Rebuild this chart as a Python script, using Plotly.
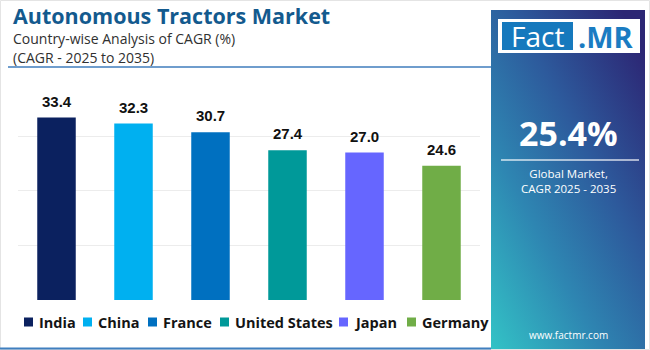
import base64
import plotly.graph_objects as go

# ---- data -------------------------------------------------------------
countries = ["India", "China", "France", "United States", "Japan", "Germany"]
cagr = [33.4, 32.3, 30.7, 27.4, 27.0, 24.6]
bar_colors = ["#0b215f", "#00b0f0", "#0070c0", "#009999", "#6666ff", "#70ad47"]
y_ticks = [0, 10, 20, 30, 40]

title_text = "Autonomous Tractors Market"
subtitle_lines = ["Country-wise Analysis of CAGR (%)", "(CAGR - 2025 to 2035)"]
global_cagr = "25.4%"
global_caption = "Global Market,<br>CAGR 2025 - 2035"
site = "www.factmr.com"

# ---- canvas geometry ----------------------------------------------------
W, H = 650, 350
ML, MR, MT, MB = 18, 170, 81, 50
PW, PH = W - ML - MR, H - MT - MB


def px(x):
    """pixel x -> paper x"""
    return (x - ML) / PW


def py(y):
    """pixel y (from top) -> paper y"""
    return (H - MB - y) / PH


fig = go.Figure()

for name, val, col in zip(countries, cagr, bar_colors):
    fig.add_trace(go.Bar(
        x=[name], y=[val], name=name,
        marker=dict(color=col, line=dict(width=0)),
        width=0.5, showlegend=False, hoverinfo="skip",
    ))
    fig.add_annotation(
        x=name, y=val, xref="x", yref="y",
        text=f"<b>{val:.1f}</b>", showarrow=False,
        yanchor="bottom", yshift=6,
        font=dict(family="Liberation Sans, Arial", size=15, color="#111111"),
    )

# ---- compact legend row: colour key + label per country ------------------------
legend_key_x = [24, 83, 148, 220, 339, 407]   # left edge of each colour key (px)
LEG_Y, KEY = 322, 9
shapes = []
annotations = []
for name, col, kx in zip(countries, bar_colors, legend_key_x):
    shapes.append(dict(type="rect", xref="paper", yref="paper",
                       x0=px(kx), x1=px(kx + KEY),
                       y0=py(LEG_Y + KEY / 2), y1=py(LEG_Y - KEY / 2),
                       line=dict(width=0), fillcolor=col))
    annotations.append(dict(text=f"<b>{name}</b>", x=px(kx + KEY + 4), y=py(LEG_Y),
                            xanchor="left", yanchor="middle",
                            font=dict(family="Open Sans", size=14.5, color="#141414")))

# ---- right-hand gradient panel ----------------------------------------------
svg = (
    '<svg xmlns="http://www.w3.org/2000/svg" width="154" height="340" '
    'viewBox="0 0 154 340" preserveAspectRatio="none">'
    '<defs><linearGradient id="g" x1="0" y1="1" x2="0.85" y2="0">'
    '<stop offset="0" stop-color="#33c3c6"/>'
    '<stop offset="0.35" stop-color="#2e86b2"/>'
    '<stop offset="0.65" stop-color="#2d5a9c"/>'
    '<stop offset="1" stop-color="#2c2674"/>'
    '</linearGradient></defs>'
    '<rect width="154" height="340" fill="url(#g)"/></svg>'
)
svg_uri = "data:image/svg+xml;base64," + base64.b64encode(svg.encode()).decode()

fig.add_layout_image(
    source=svg_uri, xref="paper", yref="paper",
    x=px(491), y=py(10), sizex=154 / PW, sizey=340 / PH,
    xanchor="left", yanchor="top", sizing="stretch", layer="below",
)

shapes += [
    # faint frame
    dict(type="rect", xref="paper", yref="paper", x0=px(0.5), x1=px(649.5),
         y0=py(349.5), y1=py(0.5), line=dict(color="#e4e4e4", width=1)),
    # rule under the subtitle
    dict(type="line", xref="paper", yref="paper", x0=px(8), x1=px(491),
         y0=py(67), y1=py(67), line=dict(color="#3f7cbc", width=1.5)),
    # rule along the bottom edge
    dict(type="line", xref="paper", yref="paper", x0=px(0), x1=px(491),
         y0=py(348.5), y1=py(348.5), line=dict(color="#3f7fbf", width=2)),
    # logo: white plate and blue block
    dict(type="rect", xref="paper", yref="paper", x0=px(498), x1=px(640),
         y0=py(53), y1=py(19), line=dict(width=0), fillcolor="white"),
    dict(type="rect", xref="paper", yref="paper", x0=px(502), x1=px(573),
         y0=py(50), y1=py(22), line=dict(width=0), fillcolor="#1679bd"),
    # divider under the headline figure
    dict(type="line", xref="paper", yref="paper", x0=px(501), x1=px(639),
         y0=py(160), y1=py(160), line=dict(color="rgba(255,255,255,0.6)", width=2)),
]

annotations += [
    dict(text=f"<b>{title_text}</b>", x=px(11), y=py(15.5), xanchor="left", yanchor="middle",
         font=dict(family="Open Sans", size=21.5, color="#135a8e")),
    dict(text=subtitle_lines[0], x=px(11), y=py(38.5), xanchor="left", yanchor="middle",
         font=dict(family="Open Sans", size=14, color="#303030")),
    dict(text=subtitle_lines[1], x=px(11), y=py(57.5), xanchor="left", yanchor="middle",
         font=dict(family="Open Sans", size=14, color="#303030")),
    dict(text="Fact", x=px(537), y=py(36), xanchor="center", yanchor="middle",
         font=dict(family="Open Sans", size=28, color="white")),
    dict(text="<b>.MR</b>", x=px(606), y=py(36), xanchor="center", yanchor="middle",
         font=dict(family="Open Sans", size=29, color="#1b7cc2")),
    dict(text=f"<b>{global_cagr}</b>", x=px(568), y=py(133), xanchor="center", yanchor="middle",
         font=dict(family="Open Sans", size=34, color="white")),
    dict(text=global_caption, x=px(568), y=py(181), xanchor="center", yanchor="middle",
         font=dict(family="Open Sans", size=11.5, color="white")),
    dict(text=site, x=px(568), y=py(335), xanchor="center", yanchor="middle",
         font=dict(family="Open Sans", size=10, color="white")),
]
for a in annotations:
    a.update(xref="paper", yref="paper", showarrow=False)
    fig.add_annotation(**a)

fig.update_layout(
    width=W, height=H,
    margin=dict(l=ML, r=MR, t=MT, b=MB, pad=0),
    paper_bgcolor="white", plot_bgcolor="white",
    barmode="overlay", bargap=0.5,
    showlegend=False,
    shapes=shapes,
    xaxis=dict(categoryorder="array", categoryarray=countries,
               showticklabels=False, showgrid=False, zeroline=False,
               showline=False, ticks=""),
    yaxis=dict(range=[0, 40.1], tickvals=y_ticks, showticklabels=False,
               showgrid=True, gridcolor="#ececec", gridwidth=1,
               zeroline=False, showline=False, ticks=""),
)

fig.write_html("out.html")
